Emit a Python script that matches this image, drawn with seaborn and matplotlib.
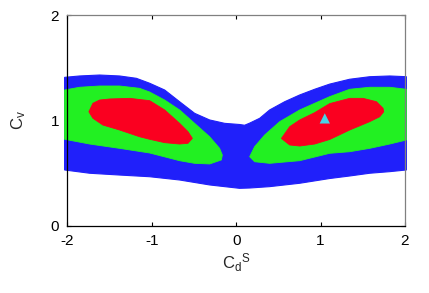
import numpy as np
import matplotlib
matplotlib.use("Agg")
import matplotlib.pyplot as plt
import seaborn as sns

# outer (blue) allowed region: top edge left->right, bottom edge right->left
blue_x = [-2.033, -1.855, -1.618, -1.381, -1.183, -1.025, -0.847, -0.670, -0.492,
          -0.314, -0.136, 0.041, 0.100, 0.160, 0.279, 0.397, 0.575, 0.753, 0.930,
          1.108, 1.345, 1.582, 1.819, 2.017,
          2.017, 1.819, 1.582, 1.345, 1.108, 0.753, 0.397, 0.160, 0.041,
          -0.314, -0.670, -1.025, -1.381, -1.736, -2.033]
blue_y = [1.409, 1.422, 1.431, 1.422, 1.400, 1.353, 1.289, 1.178, 1.068,
          1.005, 0.973, 0.962, 0.955, 0.975, 1.021, 1.100, 1.178, 1.242, 1.296,
          1.345, 1.391, 1.415, 1.422, 1.415,
          0.531, 0.515, 0.500, 0.474, 0.450, 0.405, 0.373, 0.360, 0.357,
          0.389, 0.436, 0.467, 0.483, 0.500, 0.531]

# green region, left lobe
green_l_x = [-2.033, -1.855, -1.618, -1.381, -1.144, -1.025, -0.847, -0.670, -0.492,
             -0.314, -0.196, -0.164, -0.175, -0.314, -0.492, -0.670, -1.025,
             -1.381, -1.736, -2.033]
green_l_y = [1.289, 1.315, 1.327, 1.327, 1.305, 1.270, 1.194, 1.100, 0.973,
             0.846, 0.736, 0.673, 0.626, 0.588, 0.594, 0.619, 0.692,
             0.736, 0.777, 0.822]

# green region, right lobe
green_r_x = [0.160, 0.219, 0.338, 0.516, 0.753, 0.930, 1.108, 1.345, 1.582, 1.819,
             2.017, 2.017, 1.819, 1.582, 1.345, 1.108, 0.753, 0.397, 0.219]
green_r_y = [0.657, 0.752, 0.863, 0.989, 1.100, 1.163, 1.226, 1.296, 1.315, 1.315,
             1.296, 0.815, 0.777, 0.736, 0.704, 0.689, 0.619, 0.594, 0.609]

# red region, left lobe
red_l_x = [-1.745, -1.697, -1.618, -1.499, -1.262, -1.025, -0.847, -0.670, -0.571,
           -0.519, -0.571, -0.670, -0.847, -1.025, -1.144, -1.381, -1.579, -1.697]
red_l_y = [1.083, 1.163, 1.194, 1.204, 1.210, 1.188, 1.100, 0.973, 0.894,
           0.831, 0.784, 0.777, 0.790, 0.822, 0.846, 0.910, 0.957, 1.021]

# red region, right lobe
red_r_x = [0.536, 0.634, 0.753, 0.930, 1.108, 1.345, 1.503, 1.662, 1.740, 1.748,
           1.701, 1.582, 1.345, 1.108, 0.930, 0.753, 0.634]
red_r_y = [0.830, 0.941, 1.005, 1.074, 1.160, 1.210, 1.210, 1.178, 1.116, 1.083,
           1.036, 0.989, 0.910, 0.820, 0.777, 0.758, 0.768]

# best fit point
best_x = [1.05]
best_y = [1.02]

sns.set_theme(style="ticks")
plt.rcParams["font.family"] = ["Liberation Sans", "DejaVu Sans"]
plt.rcParams["mathtext.default"] = "regular"
plt.rcParams["axes.unicode_minus"] = False

fig = plt.figure(figsize=(4.29, 2.93), dpi=100)
ax = fig.add_axes([0.157, 0.2287, 0.787, 0.7201])

ax.fill(blue_x, blue_y, color="#2020fa", lw=0.8, clip_on=False, zorder=1)
ax.fill(green_l_x, green_l_y, color="#22f022", lw=0.6, clip_on=False, zorder=2)
ax.fill(green_r_x, green_r_y, color="#22f022", lw=0.6, clip_on=False, zorder=2)
ax.fill(red_l_x, red_l_y, color="#fa0020", lw=0.6, zorder=3)
ax.fill(red_r_x, red_r_y, color="#fa0020", lw=0.6, zorder=3)
sns.scatterplot(x=best_x, y=best_y, marker="^", s=55, color="#48d4e6",
                edgecolor="none", ax=ax, zorder=4)

ax.set_xlim(-2, 2)
ax.set_ylim(0, 2)
ax.set_xticks([-2, -1, 0, 1, 2])
ax.set_yticks([0, 1, 2])
ax.tick_params(direction="in", top=True, right=True, length=3, width=0.8,
               labelsize=11, colors="black", pad=6)
for side in ["left", "bottom"]:
    ax.spines[side].set_color("black")
for side in ["top", "right"]:
    ax.spines[side].set_color("#808080")
for s in ax.spines.values():
    s.set_linewidth(0.9)
    s.set_zorder(5)

ax.set_xlabel("$C_d{}^S$", fontsize=12, labelpad=2)
ax.set_ylabel("$C_v$", fontsize=12, labelpad=16)

fig.savefig("out.png", dpi=100)
